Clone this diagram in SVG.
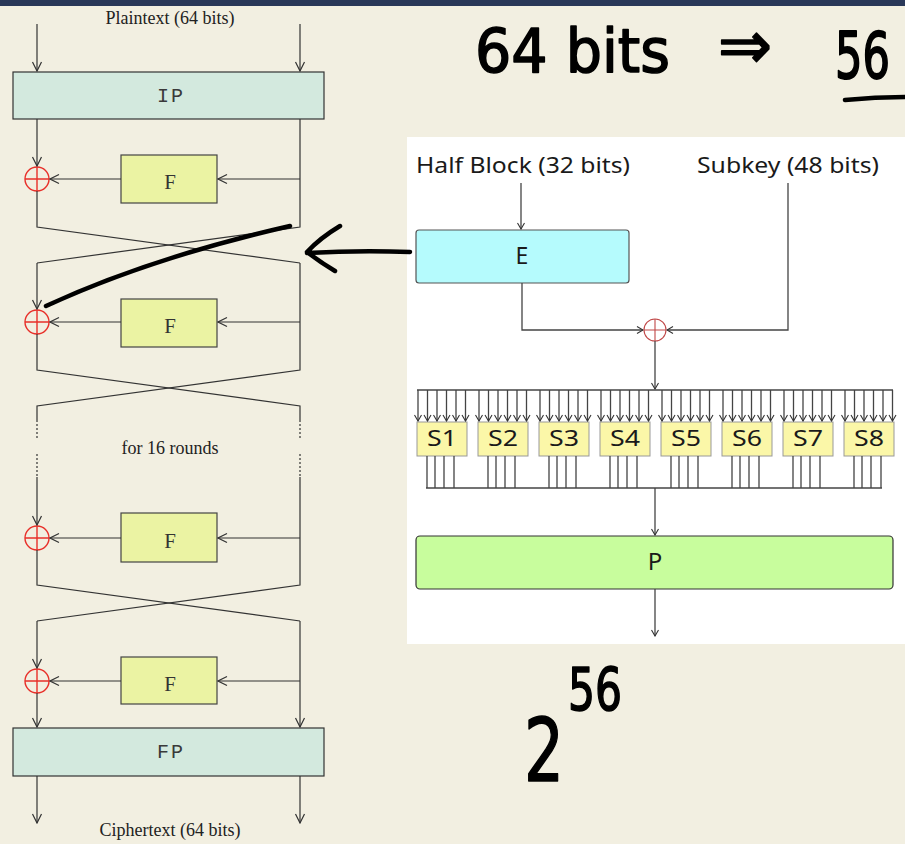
<svg xmlns="http://www.w3.org/2000/svg" xmlns:xlink="http://www.w3.org/1999/xlink" width="905" height="844" viewBox="0 0 905 844">
<defs>
<style>
.ln{stroke:#333;stroke-width:1.2;fill:none}
.lnr{stroke:#444;stroke-width:1.3;fill:none}
.dot{stroke:#333;stroke-width:1.2;fill:none;stroke-dasharray:2,2}
.xor{stroke:#e8302a;stroke-width:1.4;fill:none}
.xor2{stroke:#c04848;stroke-width:1.1;fill:none}
.perm{fill:#d3e9de;stroke:#333;stroke-width:1.2}
.fbox{fill:#ebf3a3;stroke:#444;stroke-width:1.2}
.sbox{fill:#fbf7a8;stroke:#999;stroke-width:1}
.serif{font-family:"Liberation Serif","Times New Roman",serif;font-size:18px;fill:#222;text-anchor:middle}
.mono{font-family:"Liberation Mono","Courier New",monospace;fill:#3a3a3a;text-anchor:middle}
.fl{font-family:"Liberation Serif","Times New Roman",serif;fill:#333;text-anchor:middle;font-size:21px}
.sans{font-family:"Noto Sans","Open Sans","DejaVu Sans",sans-serif;fill:#1a1a1a}
.hand{fill:none;stroke:#000;stroke-width:4.5;stroke-linecap:round;stroke-linejoin:round}
.hw{font-family:"DejaVu Sans","Noto Sans",sans-serif;fill:#000;stroke:#000;stroke-width:1.6;stroke-linejoin:round}
</style>
<marker id="ah" markerUnits="userSpaceOnUse" markerWidth="12" markerHeight="12" viewBox="0 0 12 12" refX="11" refY="6" orient="auto">
<path d="M2,1.5 L11,6 L2,10.5" fill="none" stroke="#333" stroke-width="1.2"/>
</marker>
<marker id="ahs" markerUnits="userSpaceOnUse" markerWidth="10" markerHeight="10" viewBox="0 0 10 10" refX="9" refY="5" orient="auto">
<path d="M3,1.5 L9,5 L3,8.5" fill="none" stroke="#333" stroke-width="1.1"/>
</marker>
<path id="sa" class="lnr" d="M0,390V421" marker-end="url(#ahs)"/>
</defs>

<rect x="0" y="0" width="905" height="844" fill="#f2efe1"/>
<rect x="0" y="0" width="905" height="6" fill="#293858"/>

<!-- Left: DES Feistel structure -->
<g id="plaintext"><text class="serif" x="170" y="24">Plaintext (64 bits)</text></g>
<g id="ip"><rect class="perm" x="13" y="72" width="311" height="47"/><text class="mono" x="171" y="102" font-size="20" letter-spacing="2">IP</text></g>
<g id="f1"><rect class="fbox" x="121" y="155" width="96" height="48"/><text class="fl" x="170" y="189">F</text></g>
<g id="f2"><rect class="fbox" x="121" y="299" width="96" height="48"/><text class="fl" x="170" y="333">F</text></g>
<g id="f3"><rect class="fbox" x="121" y="513" width="96" height="49"/><text class="fl" x="170" y="548">F</text></g>
<g id="f4"><rect class="fbox" x="121" y="657" width="96" height="47"/><text class="fl" x="170" y="691">F</text></g>
<g id="fp"><rect class="perm" x="13" y="728" width="311" height="48"/><text class="mono" x="171" y="758" font-size="20" letter-spacing="2">FP</text></g>
<g id="rounds"><text class="serif" x="170" y="454">for 16 rounds</text></g>
<g id="ciphertext"><text class="serif" x="170" y="836">Ciphertext (64 bits)</text></g>

<g id="xor-left">
<circle class="xor" cx="37" cy="179" r="12"/><path class="xor" d="M25,179H49M37,167V191"/>
<circle class="xor" cx="37" cy="322" r="12"/><path class="xor" d="M25,322H49M37,310V334"/>
<circle class="xor" cx="37" cy="538" r="12"/><path class="xor" d="M25,538H49M37,526V550"/>
<circle class="xor" cx="37" cy="681" r="12"/><path class="xor" d="M25,681H49M37,669V693"/>
</g>

<g id="connectors-left">
<path class="ln" d="M37,24V71" marker-end="url(#ah)"/>
<path class="ln" d="M300,24V71" marker-end="url(#ah)"/>
<path class="ln" d="M37,119V166" marker-end="url(#ah)"/>
<path class="ln" d="M300,179H218" marker-end="url(#ah)"/>
<path class="ln" d="M121,179H50" marker-end="url(#ah)"/>
<path class="ln" d="M37,191V227L300,263"/>
<path class="ln" d="M300,119V227L37,263"/>
<path class="ln" d="M37,263V309" marker-end="url(#ah)"/>
<path class="ln" d="M300,322H218" marker-end="url(#ah)"/>
<path class="ln" d="M121,322H50" marker-end="url(#ah)"/>
<path class="ln" d="M37,334V370L300,406V420"/>
<path class="ln" d="M300,263V370L37,406V420"/>
<path class="dot" d="M37,420V440M300,420V440M37,454V477M300,454V477"/>
<path class="ln" d="M37,477V525" marker-end="url(#ah)"/>
<path class="ln" d="M300,538H218" marker-end="url(#ah)"/>
<path class="ln" d="M121,538H50" marker-end="url(#ah)"/>
<path class="ln" d="M37,550V585L300,621"/>
<path class="ln" d="M300,477V585L37,621"/>
<path class="ln" d="M37,621V668" marker-end="url(#ah)"/>
<path class="ln" d="M300,621V727" marker-end="url(#ah)"/>
<path class="ln" d="M300,681H218" marker-end="url(#ah)"/>
<path class="ln" d="M121,681H50" marker-end="url(#ah)"/>
<path class="ln" d="M37,693V727" marker-end="url(#ah)"/>
<path class="ln" d="M37,776V823" marker-end="url(#ah)"/>
<path class="ln" d="M300,776V823" marker-end="url(#ah)"/>
</g>

<!-- Right: F function -->
<rect x="407" y="137" width="498" height="507" fill="#ffffff"/>
<g id="halfblock"><text class="sans" x="416" y="173" font-size="22" textLength="214" lengthAdjust="spacingAndGlyphs">Half Block (32 bits)</text></g>
<g id="subkey"><text class="sans" x="697" y="173" font-size="22" textLength="182" lengthAdjust="spacingAndGlyphs">Subkey (48 bits)</text></g>
<g id="e"><rect x="416" y="230" width="213" height="53" rx="3" fill="#b5fbfd" stroke="#555" stroke-width="1.2"/><text class="sans" x="522" y="264" font-size="23" text-anchor="middle">E</text></g>
<g id="xor-right"><circle class="xor2" cx="655" cy="330" r="11"/><path class="xor2" d="M644,330H666M655,319V341"/></g>
<g id="sboxes">
<rect class="sbox" x="417" y="422" width="50" height="34"/><text class="sans" x="427" y="446" font-size="22" textLength="30" lengthAdjust="spacingAndGlyphs">S1</text>
<rect class="sbox" x="478" y="422" width="50" height="34"/><text class="sans" x="488" y="446" font-size="22" textLength="30" lengthAdjust="spacingAndGlyphs">S2</text>
<rect class="sbox" x="539" y="422" width="50" height="34"/><text class="sans" x="549" y="446" font-size="22" textLength="30" lengthAdjust="spacingAndGlyphs">S3</text>
<rect class="sbox" x="600" y="422" width="50" height="34"/><text class="sans" x="610" y="446" font-size="22" textLength="30" lengthAdjust="spacingAndGlyphs">S4</text>
<rect class="sbox" x="661" y="422" width="50" height="34"/><text class="sans" x="671" y="446" font-size="22" textLength="30" lengthAdjust="spacingAndGlyphs">S5</text>
<rect class="sbox" x="722" y="422" width="50" height="34"/><text class="sans" x="732" y="446" font-size="22" textLength="30" lengthAdjust="spacingAndGlyphs">S6</text>
<rect class="sbox" x="783" y="422" width="50" height="34"/><text class="sans" x="793" y="446" font-size="22" textLength="30" lengthAdjust="spacingAndGlyphs">S7</text>
<rect class="sbox" x="844" y="422" width="50" height="34"/><text class="sans" x="854" y="446" font-size="22" textLength="30" lengthAdjust="spacingAndGlyphs">S8</text>
</g>
<g id="p"><rect x="416" y="536" width="477" height="53" rx="4" fill="#c8fd9d" stroke="#333" stroke-width="1.2"/><text class="sans" x="655" y="570" font-size="24" text-anchor="middle">P</text></g>

<g id="connectors-right">
<path class="lnr" d="M521,183V229" marker-end="url(#ahs)"/>
<path class="lnr" d="M522,283V330H643" marker-end="url(#ahs)"/>
<path class="lnr" d="M788,183V330H667" marker-end="url(#ahs)"/>
<path class="lnr" d="M655,341V389" marker-end="url(#ahs)"/>
<path class="lnr" d="M417,390H893"/>
<g id="s-in">
<use xlink:href="#sa" x="418"/><use xlink:href="#sa" x="427.5"/><use xlink:href="#sa" x="437"/><use xlink:href="#sa" x="446.5"/><use xlink:href="#sa" x="456"/><use xlink:href="#sa" x="465.5"/>
<use xlink:href="#sa" x="479"/><use xlink:href="#sa" x="488.5"/><use xlink:href="#sa" x="498"/><use xlink:href="#sa" x="507.5"/><use xlink:href="#sa" x="517"/><use xlink:href="#sa" x="526.5"/>
<use xlink:href="#sa" x="540"/><use xlink:href="#sa" x="549.5"/><use xlink:href="#sa" x="559"/><use xlink:href="#sa" x="568.5"/><use xlink:href="#sa" x="578"/><use xlink:href="#sa" x="587.5"/>
<use xlink:href="#sa" x="601"/><use xlink:href="#sa" x="610.5"/><use xlink:href="#sa" x="620"/><use xlink:href="#sa" x="629.5"/><use xlink:href="#sa" x="639"/><use xlink:href="#sa" x="648.5"/>
<use xlink:href="#sa" x="662"/><use xlink:href="#sa" x="671.5"/><use xlink:href="#sa" x="681"/><use xlink:href="#sa" x="690.5"/><use xlink:href="#sa" x="700"/><use xlink:href="#sa" x="709.5"/>
<use xlink:href="#sa" x="723"/><use xlink:href="#sa" x="732.5"/><use xlink:href="#sa" x="742"/><use xlink:href="#sa" x="751.5"/><use xlink:href="#sa" x="761"/><use xlink:href="#sa" x="770.5"/>
<use xlink:href="#sa" x="784"/><use xlink:href="#sa" x="793.5"/><use xlink:href="#sa" x="803"/><use xlink:href="#sa" x="812.5"/><use xlink:href="#sa" x="822"/><use xlink:href="#sa" x="831.5"/>
<use xlink:href="#sa" x="845"/><use xlink:href="#sa" x="854.5"/><use xlink:href="#sa" x="864"/><use xlink:href="#sa" x="873.5"/><use xlink:href="#sa" x="883"/><use xlink:href="#sa" x="892.5"/>
</g>
<path class="lnr" d="M427,456V488M435,456V488M444,456V488M454,456V488M488,456V488M496,456V488M505,456V488M515,456V488M549,456V488M557,456V488M566,456V488M576,456V488M610,456V488M618,456V488M627,456V488M637,456V488M671,456V488M679,456V488M688,456V488M698,456V488M732,456V488M740,456V488M749,456V488M759,456V488M793,456V488M801,456V488M810,456V488M820,456V488M854,456V488M862,456V488M871,456V488M881,456V488"/>
<path class="lnr" d="M426,488H882"/>
<path class="lnr" d="M655,488V535" marker-end="url(#ahs)"/>
<path class="lnr" d="M655,589V636" marker-end="url(#ahs)"/>
</g>

<!-- handwritten annotations -->
<g id="annotations">
<text class="hw" x="475" y="72" font-size="60" textLength="195" lengthAdjust="spacingAndGlyphs">64 bits</text>
<text class="hw" x="718" y="68" font-size="66" textLength="54" lengthAdjust="spacingAndGlyphs">⇒</text>
<text class="hw" transform="translate(835,78) scale(0.8,1.2)" x="0" y="0" font-size="54">56</text>
<path class="hand" d="M845,100 Q875,97 905,97"/>
<path class="hand" d="M46,306 Q150,258 290,226"/>
<path class="hand" d="M410,252 Q360,250 307,253 M340,226 Q320,238 307,252 Q320,262 335,271"/>
<text class="hw" x="524" y="781" font-size="88" textLength="40" lengthAdjust="spacingAndGlyphs">2</text>
<text class="hw" x="568" y="710" font-size="58" textLength="54" lengthAdjust="spacingAndGlyphs">56</text>
</g>
</svg>
